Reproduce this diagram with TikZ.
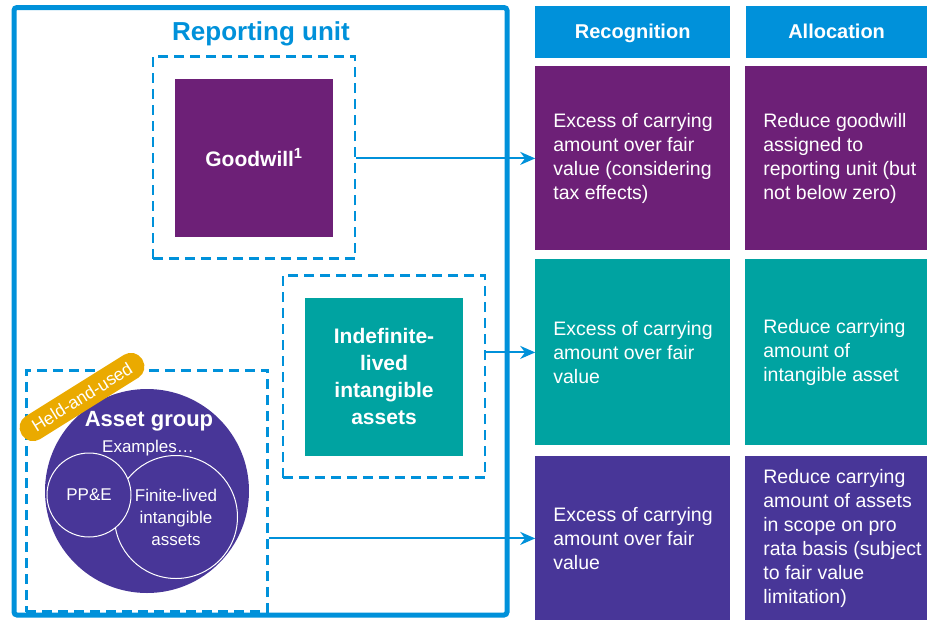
\documentclass[tikz,border=0pt]{standalone}
\usepackage{fontspec}
\setmainfont{Liberation Sans}
\usepackage{tikz}
\usetikzlibrary{arrows.meta,positioning,fit}
\usepackage{xcolor}
\definecolor{unitblue}{HTML}{0091DA}
\definecolor{gwpurple}{HTML}{6D2077}
\definecolor{iiteal}{HTML}{00A3A1}
\definecolor{agindigo}{HTML}{483698}
\definecolor{tagGold}{HTML}{EAAA00}

\begin{document}
\begin{tikzpicture}[
    x=1pt, y=-1pt,
    node distance=8pt,
    head/.style={fill=unitblue, text=white, font=\fontsize{20}{24}\selectfont\bfseries, minimum height=52pt, text height=17pt, text depth=5pt, inner sep=0pt},
    cell/.style={inner sep=0pt, outer sep=0pt},
    celltext/.style={text=white, font=\fontsize{19.5}{24}\selectfont, align=left, inner sep=0pt, anchor=west},
    square/.style={minimum width=158pt, minimum height=158pt, inner sep=0pt, text=white, font=\fontsize{21}{27}\selectfont\bfseries, align=center},
    dashbox/.style={draw=unitblue, dash pattern=on 10pt off 6pt, line width=2.5pt, inner sep=22pt},
    subcircle/.style={circle, draw=white, line width=1pt, fill=agindigo, inner sep=0pt, text=white, font=\fontsize{17}{22}\selectfont, align=center},
    tag/.style={fill=tagGold, rounded corners=13pt, minimum height=27pt, minimum width=142pt, inner sep=0pt, text=white, font=\fontsize{17.5}{19}\selectfont},
    arrow/.style={-{Stealth[length=15pt, width=13pt]}, draw=unitblue, line width=2pt},
]
    \useasboundingbox (0,0) rectangle (927,619);

    % right side: table
    \node[head, minimum width=195pt, anchor=north west] (rechead) at (535,6) {Recognition};
    \node[head, minimum width=182pt, right=15pt of rechead] (allochead) {Allocation};

    \node[cell, fill=gwpurple, minimum width=195pt, minimum height=184pt, below=8pt of rechead] (rec1) {};
    \node[cell, fill=iiteal, minimum width=195pt, minimum height=186pt, below=9pt of rec1] (rec2) {};
    \node[cell, fill=agindigo, minimum width=195pt, minimum height=164pt, below=11pt of rec2] (rec3) {};
    \node[cell, fill=gwpurple, minimum width=182pt, minimum height=184pt, right=15pt of rec1] (alloc1) {};
    \node[cell, fill=iiteal, minimum width=182pt, minimum height=186pt, right=15pt of rec2] (alloc2) {};
    \node[cell, fill=agindigo, minimum width=182pt, minimum height=164pt, right=15pt of rec3] (alloc3) {};

    \node[celltext] (rec1text) at ([xshift=18pt]rec1.west) {Excess of carrying\\amount over fair\\value (considering\\tax effects)};
    \node[celltext] (rec2text) at ([xshift=18pt]rec2.west) {Excess of carrying\\amount over fair\\value};
    \node[celltext] (rec3text) at ([xshift=18pt]rec3.west) {Excess of carrying\\amount over fair\\value};
    \node[celltext] (alloc1text) at ([xshift=18pt]alloc1.west) {Reduce goodwill\\assigned to\\reporting unit (but\\not below zero)};
    \node[celltext] (alloc2text) at ([xshift=18pt]alloc2.west) {Reduce carrying\\amount of\\intangible asset};
    \node[celltext] (alloc3text) at ([xshift=18pt]alloc3.west) {Reduce carrying\\amount of assets\\in scope on pro\\rata basis (subject\\to fair value\\limitation)};

    % left side: reporting unit
    \draw[unitblue, line width=5pt, rounded corners=3pt] (14,7.5) rectangle (507,615);
    \node[text=unitblue, font=\fontsize{26}{30}\selectfont\bfseries] (unittitle) at (261,33.5) {Reporting unit};

    \node[square, fill=gwpurple] (goodwill) at (254,157.5) {Goodwill\textsuperscript{1}};
    \node[dashbox, fit=(goodwill)] (gwbox) {};

    \node[square, fill=iiteal] (indef) at (384,376.5) {Indefinite-\\lived\\intangible\\assets};
    \node[dashbox, fit=(indef)] (idbox) {};

    \node[circle, fill=agindigo, minimum size=204pt, inner sep=0pt] (agroup) at (147,491) {};
    \node[dashbox, inner sep=18.5pt, fit=(agroup.north)(agroup.south)(agroup.east)(agroup.west)] (agbox) {};
    \node[subcircle, minimum size=123pt] (finite) at (176,517) {Finite-lived\\intangible\\assets};
    \node[subcircle, minimum size=84pt] (ppe) at (89,495) {PP\&E};
    \node[text=white, font=\fontsize{22}{24}\selectfont\bfseries] (agtitle) at (149,421) {Asset group};
    \node[text=white, font=\fontsize{17}{20}\selectfont] (examples) at (148,448) {Examples…};
    \node[tag, rotate=32] (held) at (82,397) {Held-and-used};

    \draw[arrow] (rec1.west -| gwbox.east) -- (rec1.west);
    \draw[arrow] (rec2.west -| idbox.east) -- (rec2.west);
    \draw[arrow] (rec3.west -| agbox.east) -- (rec3.west);

\end{tikzpicture}
\end{document}
